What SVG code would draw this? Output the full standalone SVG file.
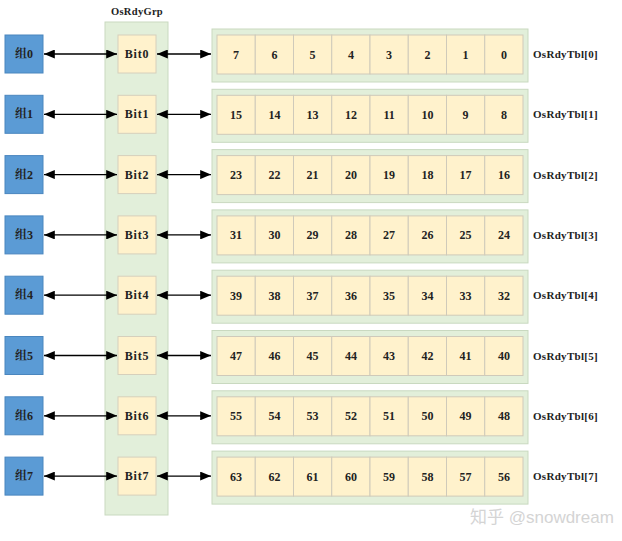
<svg xmlns="http://www.w3.org/2000/svg" width="622" height="541" viewBox="0 0 622 541">
<style>
.grp{fill:#5B9BD5;stroke:#4A86BE;stroke-width:1}
.col{fill:#E2EFDA;stroke:#C9D9C0;stroke-width:1}
.bit{fill:#FFF2CC;stroke:#D6D0BC;stroke-width:1}
.cell{fill:#FFF2CC;stroke:#CFCABA;stroke-width:1}
.tbl{fill:#E2EFDA;stroke:#C9D9C0;stroke-width:1}
text{font-family:"Liberation Serif","Noto Serif CJK SC","Noto Sans CJK SC",serif;font-weight:bold;fill:#222;text-anchor:middle;dominant-baseline:central}
.n{font-size:12px}
.g{font-size:12px}
.b{font-size:12px;letter-spacing:0.8px}
.lbl{font-size:11px;letter-spacing:0.3px;text-anchor:start}
.ttl{font-size:10.5px;letter-spacing:0.3px}
.wm{font-family:"Liberation Sans","Noto Sans CJK SC",sans-serif;font-weight:normal;font-size:17px;fill:#d4d4d4;text-anchor:start}
.ar{stroke:#000;stroke-width:1.3;fill:none;marker-start:url(#ah);marker-end:url(#ah)}
</style>
<defs>
<marker id="ah" viewBox="0 0 12 10" refX="12" refY="5" markerWidth="12" markerHeight="9" markerUnits="userSpaceOnUse" orient="auto-start-reverse"><path d="M0,0 L12,5 L0,10 z" fill="#000"/></marker>
</defs>
<rect width="622" height="541" fill="#fff"/>
<g id="osrdygrp">
<rect class="col" x="105" y="22" width="63" height="493"/>
<text class="ttl" x="137" y="11">OsRdyGrp</text>
</g>
<g id="group0"><rect class="grp" x="5" y="35" width="38" height="38"/><text class="g" x="24" y="54">组0</text></g>
<g id="group1"><rect class="grp" x="5" y="95.3" width="38" height="38"/><text class="g" x="24" y="114.3">组1</text></g>
<g id="group2"><rect class="grp" x="5" y="155.6" width="38" height="38"/><text class="g" x="24" y="174.6">组2</text></g>
<g id="group3"><rect class="grp" x="5" y="215.9" width="38" height="38"/><text class="g" x="24" y="234.9">组3</text></g>
<g id="group4"><rect class="grp" x="5" y="276.2" width="38" height="38"/><text class="g" x="24" y="295.2">组4</text></g>
<g id="group5"><rect class="grp" x="5" y="336.5" width="38" height="38"/><text class="g" x="24" y="355.5">组5</text></g>
<g id="group6"><rect class="grp" x="5" y="396.8" width="38" height="38"/><text class="g" x="24" y="415.8">组6</text></g>
<g id="group7"><rect class="grp" x="5" y="457.1" width="38" height="38"/><text class="g" x="24" y="476.1">组7</text></g>

<g id="bit0"><rect class="bit" x="118" y="35" width="38" height="38"/><text class="b" x="137" y="54">Bit0</text></g>
<g id="bit1"><rect class="bit" x="118" y="95.3" width="38" height="38"/><text class="b" x="137" y="114.3">Bit1</text></g>
<g id="bit2"><rect class="bit" x="118" y="155.6" width="38" height="38"/><text class="b" x="137" y="174.6">Bit2</text></g>
<g id="bit3"><rect class="bit" x="118" y="215.9" width="38" height="38"/><text class="b" x="137" y="234.9">Bit3</text></g>
<g id="bit4"><rect class="bit" x="118" y="276.2" width="38" height="38"/><text class="b" x="137" y="295.2">Bit4</text></g>
<g id="bit5"><rect class="bit" x="118" y="336.5" width="38" height="38"/><text class="b" x="137" y="355.5">Bit5</text></g>
<g id="bit6"><rect class="bit" x="118" y="396.8" width="38" height="38"/><text class="b" x="137" y="415.8">Bit6</text></g>
<g id="bit7"><rect class="bit" x="118" y="457.1" width="38" height="38"/><text class="b" x="137" y="476.1">Bit7</text></g>

<g id="tbl0" transform="translate(0,0)">
<rect class="tbl" x="212" y="29" width="316" height="53"/>
<rect class="cell" x="217" y="35" width="38.25" height="39"/><rect class="cell" x="255.25" y="35" width="38.25" height="39"/><rect class="cell" x="293.5" y="35" width="38.25" height="39"/><rect class="cell" x="331.75" y="35" width="38.25" height="39"/><rect class="cell" x="370" y="35" width="38.25" height="39"/><rect class="cell" x="408.25" y="35" width="38.25" height="39"/><rect class="cell" x="446.5" y="35" width="38.25" height="39"/><rect class="cell" x="484.75" y="35" width="38.25" height="39"/>
<text class="n" x="236" y="54.5">7</text><text class="n" x="274.4" y="54.5">6</text><text class="n" x="312.6" y="54.5">5</text><text class="n" x="350.9" y="54.5">4</text><text class="n" x="389.1" y="54.5">3</text><text class="n" x="427.4" y="54.5">2</text><text class="n" x="465.6" y="54.5">1</text><text class="n" x="503.9" y="54.5">0</text>
<text class="lbl" x="533" y="54">OsRdyTbl[0]</text>
</g>
<g id="tbl1" transform="translate(0,60.3)">
<rect class="tbl" x="212" y="29" width="316" height="53"/>
<rect class="cell" x="217" y="35" width="38.25" height="39"/><rect class="cell" x="255.25" y="35" width="38.25" height="39"/><rect class="cell" x="293.5" y="35" width="38.25" height="39"/><rect class="cell" x="331.75" y="35" width="38.25" height="39"/><rect class="cell" x="370" y="35" width="38.25" height="39"/><rect class="cell" x="408.25" y="35" width="38.25" height="39"/><rect class="cell" x="446.5" y="35" width="38.25" height="39"/><rect class="cell" x="484.75" y="35" width="38.25" height="39"/>
<text class="n" x="236" y="54.5">15</text><text class="n" x="274.4" y="54.5">14</text><text class="n" x="312.6" y="54.5">13</text><text class="n" x="350.9" y="54.5">12</text><text class="n" x="389.1" y="54.5">11</text><text class="n" x="427.4" y="54.5">10</text><text class="n" x="465.6" y="54.5">9</text><text class="n" x="503.9" y="54.5">8</text>
<text class="lbl" x="533" y="54">OsRdyTbl[1]</text>
</g>
<g id="tbl2" transform="translate(0,120.6)">
<rect class="tbl" x="212" y="29" width="316" height="53"/>
<rect class="cell" x="217" y="35" width="38.25" height="39"/><rect class="cell" x="255.25" y="35" width="38.25" height="39"/><rect class="cell" x="293.5" y="35" width="38.25" height="39"/><rect class="cell" x="331.75" y="35" width="38.25" height="39"/><rect class="cell" x="370" y="35" width="38.25" height="39"/><rect class="cell" x="408.25" y="35" width="38.25" height="39"/><rect class="cell" x="446.5" y="35" width="38.25" height="39"/><rect class="cell" x="484.75" y="35" width="38.25" height="39"/>
<text class="n" x="236" y="54.5">23</text><text class="n" x="274.4" y="54.5">22</text><text class="n" x="312.6" y="54.5">21</text><text class="n" x="350.9" y="54.5">20</text><text class="n" x="389.1" y="54.5">19</text><text class="n" x="427.4" y="54.5">18</text><text class="n" x="465.6" y="54.5">17</text><text class="n" x="503.9" y="54.5">16</text>
<text class="lbl" x="533" y="54">OsRdyTbl[2]</text>
</g>
<g id="tbl3" transform="translate(0,180.9)">
<rect class="tbl" x="212" y="29" width="316" height="53"/>
<rect class="cell" x="217" y="35" width="38.25" height="39"/><rect class="cell" x="255.25" y="35" width="38.25" height="39"/><rect class="cell" x="293.5" y="35" width="38.25" height="39"/><rect class="cell" x="331.75" y="35" width="38.25" height="39"/><rect class="cell" x="370" y="35" width="38.25" height="39"/><rect class="cell" x="408.25" y="35" width="38.25" height="39"/><rect class="cell" x="446.5" y="35" width="38.25" height="39"/><rect class="cell" x="484.75" y="35" width="38.25" height="39"/>
<text class="n" x="236" y="54.5">31</text><text class="n" x="274.4" y="54.5">30</text><text class="n" x="312.6" y="54.5">29</text><text class="n" x="350.9" y="54.5">28</text><text class="n" x="389.1" y="54.5">27</text><text class="n" x="427.4" y="54.5">26</text><text class="n" x="465.6" y="54.5">25</text><text class="n" x="503.9" y="54.5">24</text>
<text class="lbl" x="533" y="54">OsRdyTbl[3]</text>
</g>
<g id="tbl4" transform="translate(0,241.2)">
<rect class="tbl" x="212" y="29" width="316" height="53"/>
<rect class="cell" x="217" y="35" width="38.25" height="39"/><rect class="cell" x="255.25" y="35" width="38.25" height="39"/><rect class="cell" x="293.5" y="35" width="38.25" height="39"/><rect class="cell" x="331.75" y="35" width="38.25" height="39"/><rect class="cell" x="370" y="35" width="38.25" height="39"/><rect class="cell" x="408.25" y="35" width="38.25" height="39"/><rect class="cell" x="446.5" y="35" width="38.25" height="39"/><rect class="cell" x="484.75" y="35" width="38.25" height="39"/>
<text class="n" x="236" y="54.5">39</text><text class="n" x="274.4" y="54.5">38</text><text class="n" x="312.6" y="54.5">37</text><text class="n" x="350.9" y="54.5">36</text><text class="n" x="389.1" y="54.5">35</text><text class="n" x="427.4" y="54.5">34</text><text class="n" x="465.6" y="54.5">33</text><text class="n" x="503.9" y="54.5">32</text>
<text class="lbl" x="533" y="54">OsRdyTbl[4]</text>
</g>
<g id="tbl5" transform="translate(0,301.5)">
<rect class="tbl" x="212" y="29" width="316" height="53"/>
<rect class="cell" x="217" y="35" width="38.25" height="39"/><rect class="cell" x="255.25" y="35" width="38.25" height="39"/><rect class="cell" x="293.5" y="35" width="38.25" height="39"/><rect class="cell" x="331.75" y="35" width="38.25" height="39"/><rect class="cell" x="370" y="35" width="38.25" height="39"/><rect class="cell" x="408.25" y="35" width="38.25" height="39"/><rect class="cell" x="446.5" y="35" width="38.25" height="39"/><rect class="cell" x="484.75" y="35" width="38.25" height="39"/>
<text class="n" x="236" y="54.5">47</text><text class="n" x="274.4" y="54.5">46</text><text class="n" x="312.6" y="54.5">45</text><text class="n" x="350.9" y="54.5">44</text><text class="n" x="389.1" y="54.5">43</text><text class="n" x="427.4" y="54.5">42</text><text class="n" x="465.6" y="54.5">41</text><text class="n" x="503.9" y="54.5">40</text>
<text class="lbl" x="533" y="54">OsRdyTbl[5]</text>
</g>
<g id="tbl6" transform="translate(0,361.8)">
<rect class="tbl" x="212" y="29" width="316" height="53"/>
<rect class="cell" x="217" y="35" width="38.25" height="39"/><rect class="cell" x="255.25" y="35" width="38.25" height="39"/><rect class="cell" x="293.5" y="35" width="38.25" height="39"/><rect class="cell" x="331.75" y="35" width="38.25" height="39"/><rect class="cell" x="370" y="35" width="38.25" height="39"/><rect class="cell" x="408.25" y="35" width="38.25" height="39"/><rect class="cell" x="446.5" y="35" width="38.25" height="39"/><rect class="cell" x="484.75" y="35" width="38.25" height="39"/>
<text class="n" x="236" y="54.5">55</text><text class="n" x="274.4" y="54.5">54</text><text class="n" x="312.6" y="54.5">53</text><text class="n" x="350.9" y="54.5">52</text><text class="n" x="389.1" y="54.5">51</text><text class="n" x="427.4" y="54.5">50</text><text class="n" x="465.6" y="54.5">49</text><text class="n" x="503.9" y="54.5">48</text>
<text class="lbl" x="533" y="54">OsRdyTbl[6]</text>
</g>
<g id="tbl7" transform="translate(0,422.1)">
<rect class="tbl" x="212" y="29" width="316" height="53"/>
<rect class="cell" x="217" y="35" width="38.25" height="39"/><rect class="cell" x="255.25" y="35" width="38.25" height="39"/><rect class="cell" x="293.5" y="35" width="38.25" height="39"/><rect class="cell" x="331.75" y="35" width="38.25" height="39"/><rect class="cell" x="370" y="35" width="38.25" height="39"/><rect class="cell" x="408.25" y="35" width="38.25" height="39"/><rect class="cell" x="446.5" y="35" width="38.25" height="39"/><rect class="cell" x="484.75" y="35" width="38.25" height="39"/>
<text class="n" x="236" y="54.5">63</text><text class="n" x="274.4" y="54.5">62</text><text class="n" x="312.6" y="54.5">61</text><text class="n" x="350.9" y="54.5">60</text><text class="n" x="389.1" y="54.5">59</text><text class="n" x="427.4" y="54.5">58</text><text class="n" x="465.6" y="54.5">57</text><text class="n" x="503.9" y="54.5">56</text>
<text class="lbl" x="533" y="54">OsRdyTbl[7]</text>
</g>

<g id="connectors">
<line class="ar" x1="44" y1="54" x2="117" y2="54"/><line class="ar" x1="157" y1="54" x2="211" y2="54"/>
<line class="ar" x1="44" y1="114.3" x2="117" y2="114.3"/><line class="ar" x1="157" y1="114.3" x2="211" y2="114.3"/>
<line class="ar" x1="44" y1="174.6" x2="117" y2="174.6"/><line class="ar" x1="157" y1="174.6" x2="211" y2="174.6"/>
<line class="ar" x1="44" y1="234.9" x2="117" y2="234.9"/><line class="ar" x1="157" y1="234.9" x2="211" y2="234.9"/>
<line class="ar" x1="44" y1="295.2" x2="117" y2="295.2"/><line class="ar" x1="157" y1="295.2" x2="211" y2="295.2"/>
<line class="ar" x1="44" y1="355.5" x2="117" y2="355.5"/><line class="ar" x1="157" y1="355.5" x2="211" y2="355.5"/>
<line class="ar" x1="44" y1="415.8" x2="117" y2="415.8"/><line class="ar" x1="157" y1="415.8" x2="211" y2="415.8"/>
<line class="ar" x1="44" y1="476.1" x2="117" y2="476.1"/><line class="ar" x1="157" y1="476.1" x2="211" y2="476.1"/>
</g>
<text class="wm" x="470" y="517">知乎 @snowdream</text>
</svg>
